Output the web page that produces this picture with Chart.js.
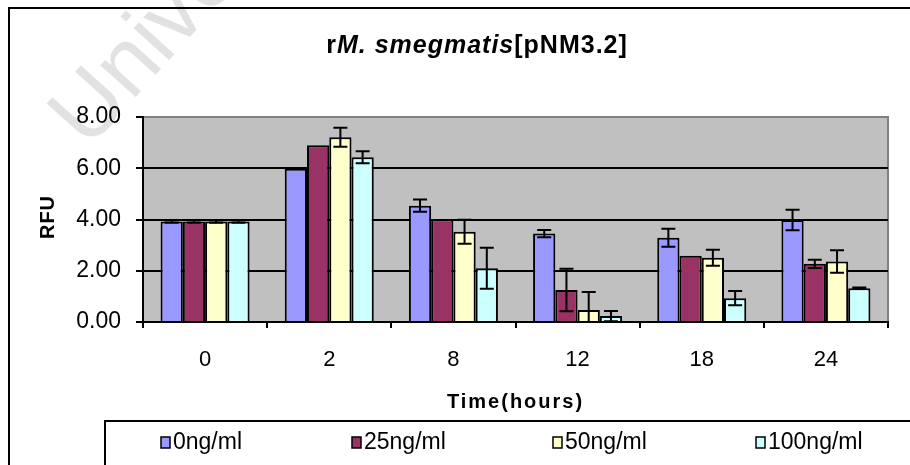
<!DOCTYPE html>
<html>
<head>
<meta charset="utf-8">
<script src="https://cdn.jsdelivr.net/npm/chart.js@4.4.1/dist/chart.umd.min.js"></script>
<style>
  html, body { margin: 0; padding: 0; background: #fff; }
  canvas { display: block; }
</style>
</head>
<body>
<canvas id="rfuChart" width="910" height="465"></canvas>
<script>
// temps (heures) et valeurs RFU
const categories = ["0", "2", "8", "12", "18", "24"];
const seriesLabels = ["0ng/ml", "25ng/ml", "50ng/ml", "100ng/ml"];
const seriesColors = ["#9999FF", "#993366", "#FFFFCC", "#CCFFFF"];

const rfu0 = [3.92, 5.98, 4.54, 3.45, 3.29, 3.98];
const rfu25 = [3.92, 6.90, 4.01, 1.25, 2.59, 2.27];
const rfu50 = [3.92, 7.21, 3.52, 0.47, 2.51, 2.36];
const rfu100 = [3.92, 6.43, 2.10, 0.23, 0.93, 1.32];

const err0 = [0.05, 0, 0.24, 0.14, 0.35, 0.40];
const err25 = [0.05, 0, 0, 0.83, 0, 0.16];
const err50 = [0.05, 0.37, 0.47, 0.70, 0.31, 0.44];
const err100 = [0.05, 0.23, 0.80, 0.20, 0.28, 0.03];

const yTicks = [0, 2, 4, 6, 8];

const allValues = [rfu0, rfu25, rfu50, rfu100];
const allErrors = [err0, err25, err50, err100];

const FONT = "'Liberation Sans', Arial, sans-serif";

// fond, filigrane, cadres, titres, légende
const decorPlugin = {
    id: "decor",
    beforeDraw(chart) {
        const ctx = chart.ctx;
        const a = chart.chartArea;
        ctx.save();
        ctx.fillStyle = "#fff";
        ctx.fillRect(0, 0, chart.width, chart.height);

        // filigrane
        ctx.save();
        ctx.translate(88, 150);
        ctx.rotate(-48 * Math.PI / 180);
        ctx.fillStyle = "#e2e2e2";
        ctx.font = "90px " + FONT;
        ctx.textBaseline = "alphabetic";
        ctx.fillText("University", 0, 0);
        ctx.restore();

        // fond gris de la zone de tracé
        ctx.fillStyle = "#c0c0c0";
        ctx.fillRect(a.left, a.top, a.right - a.left, a.bottom - a.top);
        ctx.strokeStyle = "#808080";
        ctx.lineWidth = 2;
        ctx.beginPath();
        ctx.moveTo(a.left, a.top);
        ctx.lineTo(a.right, a.top);
        ctx.lineTo(a.right, a.bottom);
        ctx.stroke();
        ctx.restore();
    },
    afterDraw(chart) {
        const ctx = chart.ctx;
        const a = chart.chartArea;
        ctx.save();

        // cadre extérieur
        ctx.strokeStyle = "#000";
        ctx.lineWidth = 2;
        ctx.strokeRect(9, 8, 960, 520);

        // titre
        const parts = [
            { t: "r", f: "bold 25px " + FONT },
            { t: "M. smegmatis", f: "italic bold 25px " + FONT },
            { t: "[pNM3.2]", f: "bold 25px " + FONT }
        ];
        ctx.fillStyle = "#000";
        ctx.textBaseline = "alphabetic";
        ctx.textAlign = "left";
        ctx.letterSpacing = "1px";
        let total = 0;
        parts.forEach(p => { ctx.font = p.f; p.w = ctx.measureText(p.t).width; total += p.w; });
        let x = 477 - total / 2;
        parts.forEach(p => { ctx.font = p.f; ctx.fillText(p.t, x, 53); x += p.w; });

        // titre axe X
        ctx.font = "bold 20px " + FONT;
        ctx.textAlign = "center";
        ctx.letterSpacing = "2px";
        ctx.fillText("Time(hours)", (a.left + a.right) / 2, 408);

        // titre axe Y
        ctx.save();
        ctx.translate(54, 217);
        ctx.rotate(-Math.PI / 2);
        ctx.letterSpacing = "1px";
        ctx.fillText("RFU", 0, 0);
        ctx.restore();

        // légende
        ctx.letterSpacing = "0px";
        ctx.lineWidth = 2;
        ctx.strokeRect(105, 421, 900, 100);
        const legendX = [161, 352, 553, 756];
        ctx.font = "23px " + FONT;
        ctx.textAlign = "left";
        ctx.textBaseline = "middle";
        seriesLabels.forEach((lab, i) => {
            ctx.fillStyle = seriesColors[i];
            ctx.fillRect(legendX[i], 437, 9, 11);
            ctx.lineWidth = 1.5;
            ctx.strokeStyle = "#000";
            ctx.strokeRect(legendX[i], 437, 9, 11);
            ctx.fillStyle = "#000";
            ctx.fillText(lab, legendX[i] + 12, 443);
        });
        ctx.restore();
    }
};

// barres d'erreur
const errorBarPlugin = {
    id: "errorBars",
    afterDatasetsDraw(chart) {
        const ctx = chart.ctx;
        const yScale = chart.scales.y;
        const a = chart.chartArea;
        ctx.save();
        ctx.beginPath();
        ctx.rect(a.left, a.top - 2, a.right - a.left, a.bottom - a.top + 2);
        ctx.clip();
        ctx.strokeStyle = "#000";
        ctx.lineWidth = 2;
        chart.data.datasets.forEach((ds, i) => {
            const meta = chart.getDatasetMeta(i);
            meta.data.forEach((bar, j) => {
                const v = ds.data[j];
                const e = ds.errors[j];
                if (!e) return;
                const yHi = yScale.getPixelForValue(v + e);
                const yLo = yScale.getPixelForValue(v - e);
                const x = bar.x;
                ctx.beginPath();
                ctx.moveTo(x, yHi);
                ctx.lineTo(x, yLo);
                ctx.moveTo(x - 7, yHi);
                ctx.lineTo(x + 7, yHi);
                ctx.moveTo(x - 7, yLo);
                ctx.lineTo(x + 7, yLo);
                ctx.stroke();
            });
        });
        ctx.restore();
    }
};

const datasets = seriesLabels.map((lab, i) => ({
    label: lab,
    data: allValues[i],
    errors: allErrors[i],
    backgroundColor: seriesColors[i],
    borderColor: "#000",
    borderWidth: 2,
    categoryPercentage: 0.717,
    barPercentage: 1.0
}));

const ctx = document.getElementById("rfuChart").getContext("2d");

new Chart(ctx, {
    type: "bar",
    data: {
        labels: categories,
        datasets: datasets
    },
    options: {
        responsive: false,
        animation: false,
        devicePixelRatio: 1,
        layout: {
            padding: { left: 0, right: 22, top: 117, bottom: 0 }
        },
        plugins: {
            legend: { display: false },
            title: { display: false },
            tooltip: { enabled: false }
        },
        scales: {
            x: {
                afterFit: s => { s.height = 143; },
                grid: {
                    offset: true,
                    drawOnChartArea: false,
                    drawTicks: true,
                    tickLength: 6,
                    color: "#000",
                    lineWidth: 2
                },
                border: { color: "#000", width: 2 },
                ticks: {
                    color: "#000",
                    font: { family: FONT, size: 22 },
                    padding: 19
                }
            },
            y: {
                min: 0,
                max: 8,
                afterFit: s => { s.width = 143; },
                afterBuildTicks: s => { s.ticks = yTicks.map(v => ({ value: v })); },
                grid: {
                    color: c => (c.tick && c.tick.value === 8) ? "#808080" : "#000",
                    tickColor: "#000",
                    lineWidth: 2,
                    tickLength: 7
                },
                border: { color: "#000", width: 2 },
                ticks: {
                    color: "#000",
                    font: { family: FONT, size: 23 },
                    padding: 15,
                    callback: v => Number(v).toFixed(2)
                }
            }
        }
    },
    plugins: [decorPlugin, errorBarPlugin]
});
</script>
</body>
</html>
